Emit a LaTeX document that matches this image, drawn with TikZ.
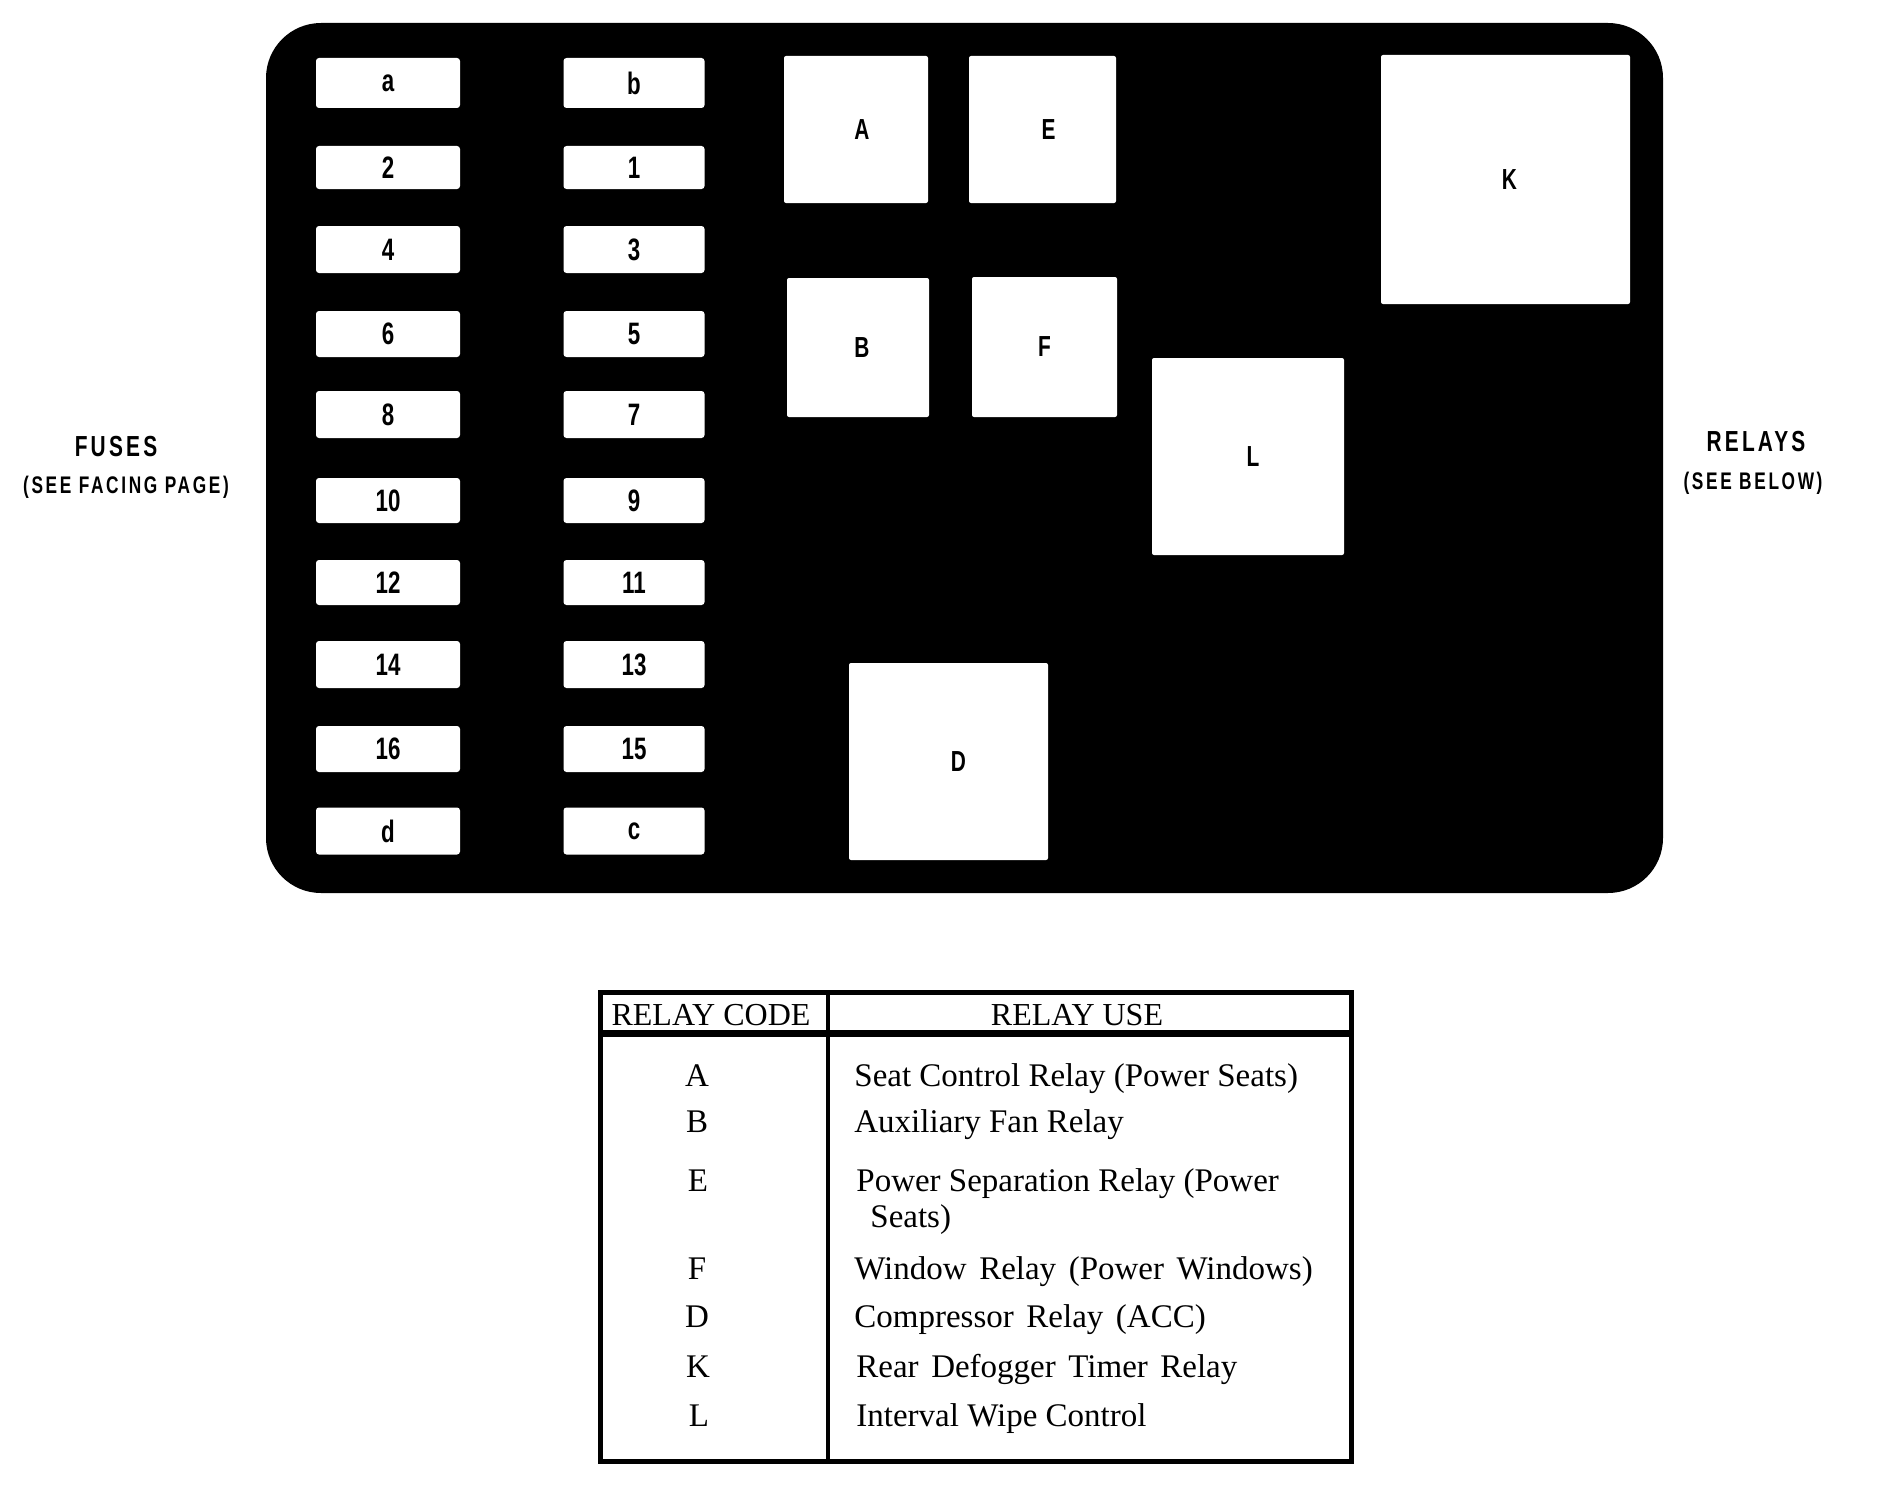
\documentclass[tikz,border=0pt]{standalone}
\usepackage{fontspec}
\setmainfont{Liberation Serif}
\newfontfamily\cnd[FakeStretch=0.72]{Liberation Sans}
\newfontfamily\cndsp[FakeStretch=0.72,LetterSpace=11]{Liberation Sans}
\tikzset{
  fuse/.style={fill=white, rounded corners=1.5pt, inner sep=0pt,
    font=\cnd\bfseries\fontsize{15.5}{16}\selectfont},
  relay/.style={fill=white, rounded corners=1pt, inner sep=0pt,
    font=\cnd\bfseries\fontsize{14.5}{15}\selectfont},
  side/.style={inner sep=0pt, font=\cndsp\bfseries\fontsize{14.5}{15}\selectfont},
  sidenote/.style={inner sep=0pt, font=\cndsp\bfseries\fontsize{12}{13}\selectfont},
  thead/.style={inner sep=0pt, anchor=base, font=\fontsize{16}{18}\selectfont},
  tcode/.style={inner sep=0pt, anchor=base, font=\fontsize{16.5}{18}\selectfont},
  tuse/.style={inner sep=0pt, anchor=base west, font=\fontsize{16.5}{18}\selectfont},
  wide/.style={execute at begin node={\spaceskip=0.38em\relax}}
}
\begin{document}
\begin{tikzpicture}[x=0.5pt,y=-0.5pt]
\useasboundingbox (0,0) rectangle (1900,1504);
% panel
\fill[black, rounded corners=27.5pt] (266,23) rectangle (1663,893);
% fuses
\foreach \l/\r/\y/\h in {a/b/83/50, 2/1/167.5/43, 4/3/249.5/47, 6/5/334/46,
  8/7/414.5/47, 10/9/500.5/45, 12/11/582.5/45, 14/13/664.5/47,
  16/15/749/46, d/c/831/47}{
  \node[fuse, minimum width=72pt, minimum height=\h*0.5pt] (f-\l) at (388,\y) {\l};
  \node[fuse, minimum width=70.5pt, minimum height=\h*0.5pt] (f-\r) at (634,\y) {\r};
}
% relays
\node[relay, minimum width=72pt, minimum height=73.5pt] (A) at (856,129.5) {\hspace*{6pt}A};
\node[relay, minimum width=73.5pt, minimum height=73.5pt] (E) at (1042.5,129.5) {\hspace*{6pt}E};
\node[relay, minimum width=71pt, minimum height=69.5pt] (B) at (858,347.5) {\hspace*{4pt}B};
\node[relay, minimum width=72.5pt, minimum height=70pt] (F) at (1044.5,347) {F};
\node[relay, minimum width=124.5pt, minimum height=124.5pt] (K) at (1505.5,179.5) {\hspace*{4pt}K};
\node[relay, minimum width=96pt, minimum height=98.5pt] (L) at (1248,456.5) {\hspace*{5pt}L};
\node[relay, minimum width=99.5pt, minimum height=98.5pt] (D) at (948.5,761.5) {\hspace*{10pt}D};
% side labels
\node[side] (fuses) at (116,447) {FUSES};
\node[sidenote] (fusesnote) at (126,487) {(SEE FACING PAGE)};
\node[side] (relays) at (1756,442) {RELAYS};
\node[sidenote] (relaysnote) at (1753,483) {(SEE BELOW)};
% table
\draw[line width=2.5pt] (600,992.5) rectangle (1351,1461);
\draw[line width=3.5pt] (600,1033.5) -- (1351,1033.5);
\draw[line width=1.75pt] (828,992.5) -- (828,1461);
\node[thead] (hcode) at (711,1025) {RELAY CODE};
\node[thead] (huse) at (1077,1025) {RELAY USE};
\node[tcode] (cA) at (697,1086) {A};
\node[tcode] (cB) at (697,1132) {B};
\node[tcode] (cE) at (698,1191) {E};
\node[tcode] (cF) at (697,1279) {F};
\node[tcode] (cD) at (697,1327) {D};
\node[tcode] (cK) at (698,1377) {K};
\node[tcode] (cL) at (699,1426) {L};
\node[tuse] (uA) at (854,1086) {Seat Control Relay (Power Seats)};
\node[tuse] (uB) at (854,1132) {Auxiliary Fan Relay};
\node[tuse] (uE) at (856,1191) {Power Separation Relay (Power};
\node[tuse] (uE2) at (870,1227) {Seats)};
\node[tuse, wide] (uF) at (854,1279) {Window Relay (Power Windows)};
\node[tuse, wide] (uD) at (854,1327) {Compressor Relay (ACC)};
\node[tuse, wide] (uK) at (856,1377) {Rear Defogger Timer Relay};
\node[tuse] (uL) at (856,1426) {Interval Wipe Control};
\end{tikzpicture}
\end{document}
